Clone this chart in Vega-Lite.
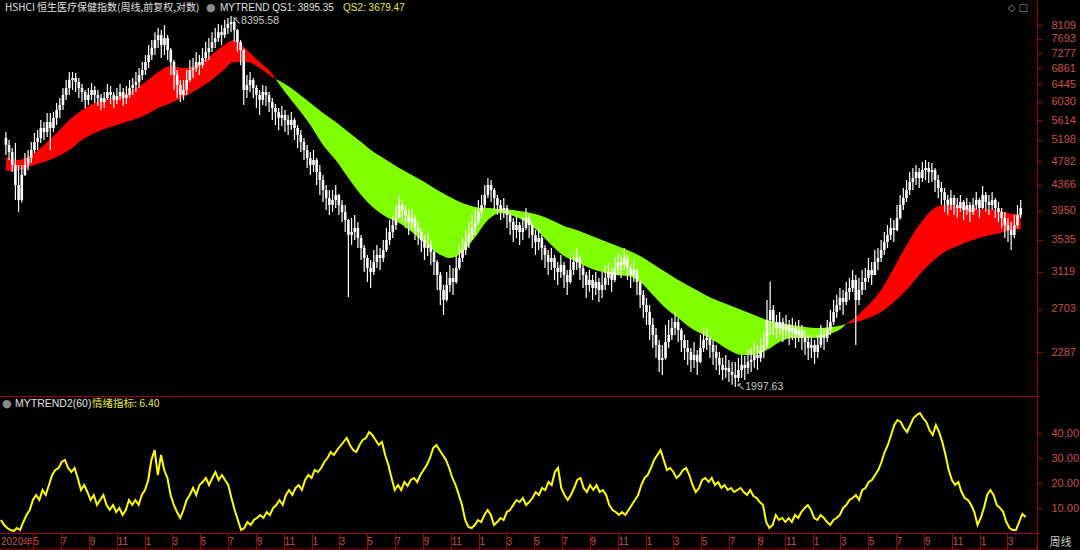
{
"$schema": "https://vega.github.io/schema/vega-lite/v6.json",
"background": "#000000",
"padding": {"left": -4, "top": 0, "right": 4, "bottom": 0},
"spacing": 1,
"bounds": "flush",
"config": {"view": {"stroke": null}, "axis": {"grid": false, "domainColor": "#a00000", "tickColor": "#a00000", "labelColor": "#c8504a", "labelFont": "Liberation Sans", "labelFontSize": 11, "labelOverlap": false, "titleColor": "#c8c8c8"}},
"datasets": {
"p": [
{"d":"2020-02-21","o":5240,"h":5360,"l":4903,"c":5097,"m":5.2},
{"d":"2020-02-28","o":5097,"h":5196,"l":4809,"c":4960,"m":3.2},
{"d":"2020-03-06","o":4960,"h":5038,"l":4591,"c":4717,"m":2},
{"d":"2020-03-13","o":4717,"h":5136,"l":4120,"c":4366,"m":1.2},
{"d":"2020-03-20","o":4366,"h":4717,"l":3932,"c":4120,"m":0.8},
{"d":"2020-03-27","o":4120,"h":4717,"l":4080,"c":4538,"m":2},
{"d":"2020-04-03","o":4538,"h":4941,"l":4520,"c":4717,"m":1.2},
{"d":"2020-04-10","o":4717,"h":4999,"l":4627,"c":4846,"m":4.4},
{"d":"2020-04-17","o":4846,"h":5156,"l":4754,"c":4999,"m":7.2},
{"d":"2020-04-24","o":4999,"h":5339,"l":4941,"c":5156,"m":9.2},
{"d":"2020-05-01","o":5156,"h":5401,"l":4999,"c":5237,"m":13.2},
{"d":"2020-05-08","o":5237,"h":5614,"l":5136,"c":5443,"m":15.2},
{"d":"2020-05-15","o":5443,"h":5571,"l":5196,"c":5359,"m":13.2},
{"d":"2020-05-22","o":5359,"h":5768,"l":5256,"c":5571,"m":17.2},
{"d":"2020-05-29","o":5571,"h":5768,"l":4999,"c":5443,"m":15.2},
{"d":"2020-06-05","o":5443,"h":5790,"l":5359,"c":5658,"m":19.2},
{"d":"2020-06-12","o":5658,"h":5996,"l":5507,"c":5836,"m":23.2},
{"d":"2020-06-19","o":5836,"h":6113,"l":5658,"c":5950,"m":25.2},
{"d":"2020-06-26","o":5950,"h":6355,"l":5836,"c":6185,"m":26},
{"d":"2020-07-03","o":6185,"h":6554,"l":6066,"c":6355,"m":28.4},
{"d":"2020-07-10","o":6355,"h":6760,"l":6185,"c":6554,"m":29.2},
{"d":"2020-07-17","o":6554,"h":6760,"l":6306,"c":6605,"m":26},
{"d":"2020-07-24","o":6605,"h":6734,"l":6257,"c":6503,"m":24.4},
{"d":"2020-07-31","o":6503,"h":6605,"l":6113,"c":6355,"m":26},
{"d":"2020-08-07","o":6355,"h":6454,"l":6019,"c":6257,"m":22},
{"d":"2020-08-14","o":6257,"h":6306,"l":5882,"c":6066,"m":17.2},
{"d":"2020-08-21","o":6066,"h":6355,"l":5950,"c":6185,"m":19.2},
{"d":"2020-08-28","o":6185,"h":6480,"l":6066,"c":6306,"m":16.4},
{"d":"2020-09-04","o":6306,"h":6405,"l":5996,"c":6185,"m":13.2},
{"d":"2020-09-11","o":6185,"h":6306,"l":5927,"c":6113,"m":15.2},
{"d":"2020-09-18","o":6113,"h":6209,"l":5836,"c":6019,"m":11.2},
{"d":"2020-09-25","o":6019,"h":6257,"l":5882,"c":6113,"m":13.2},
{"d":"2020-10-02","o":6113,"h":6454,"l":6066,"c":6257,"m":15.2},
{"d":"2020-10-09","o":6257,"h":6405,"l":5973,"c":6185,"m":11.2},
{"d":"2020-10-16","o":6185,"h":6257,"l":5882,"c":6066,"m":9.2},
{"d":"2020-10-23","o":6066,"h":6355,"l":5973,"c":6161,"m":11.2},
{"d":"2020-10-30","o":6161,"h":6454,"l":6066,"c":6257,"m":8.4},
{"d":"2020-11-06","o":6257,"h":6355,"l":5927,"c":6113,"m":10},
{"d":"2020-11-13","o":6113,"h":6405,"l":5973,"c":6185,"m":7.2},
{"d":"2020-11-20","o":6185,"h":6554,"l":6113,"c":6355,"m":9.2},
{"d":"2020-11-27","o":6355,"h":6605,"l":6185,"c":6429,"m":13.2},
{"d":"2020-12-04","o":6429,"h":6760,"l":6257,"c":6503,"m":11.2},
{"d":"2020-12-11","o":6503,"h":6866,"l":6355,"c":6682,"m":13.2},
{"d":"2020-12-18","o":6682,"h":7027,"l":6554,"c":6813,"m":11.2},
{"d":"2020-12-25","o":6813,"h":7219,"l":6682,"c":7027,"m":15.2},
{"d":"2021-01-01","o":7027,"h":7503,"l":6866,"c":7219,"m":17.2},
{"d":"2021-01-08","o":7219,"h":7650,"l":7082,"c":7418,"m":21.2},
{"d":"2021-01-15","o":7418,"h":7890,"l":7219,"c":7650,"m":29.2},
{"d":"2021-01-22","o":7650,"h":8015,"l":7418,"c":7800,"m":33.2},
{"d":"2021-01-29","o":7800,"h":7952,"l":7137,"c":7503,"m":23.2},
{"d":"2021-02-05","o":7503,"h":8109,"l":7219,"c":7710,"m":31.2},
{"d":"2021-02-12","o":7710,"h":7800,"l":7082,"c":7361,"m":25.2},
{"d":"2021-02-19","o":7361,"h":7418,"l":6682,"c":7027,"m":22},
{"d":"2021-02-26","o":7027,"h":7082,"l":6306,"c":6682,"m":15.2},
{"d":"2021-03-05","o":6682,"h":6813,"l":6113,"c":6429,"m":11.2},
{"d":"2021-03-12","o":6429,"h":6554,"l":6019,"c":6185,"m":8.4},
{"d":"2021-03-19","o":6185,"h":6554,"l":6066,"c":6306,"m":6},
{"d":"2021-03-26","o":6306,"h":6813,"l":6185,"c":6554,"m":9.2},
{"d":"2021-04-02","o":6554,"h":7082,"l":6503,"c":6813,"m":13.2},
{"d":"2021-04-09","o":6813,"h":7137,"l":6605,"c":6866,"m":15.2},
{"d":"2021-04-16","o":6866,"h":7304,"l":6760,"c":7027,"m":18},
{"d":"2021-04-23","o":7027,"h":7219,"l":6682,"c":6945,"m":15.2},
{"d":"2021-04-30","o":6945,"h":7418,"l":6866,"c":7137,"m":19.2},
{"d":"2021-05-07","o":7137,"h":7591,"l":7027,"c":7304,"m":20.4},
{"d":"2021-05-14","o":7304,"h":7710,"l":7082,"c":7418,"m":22},
{"d":"2021-05-21","o":7418,"h":7890,"l":7304,"c":7591,"m":19.2},
{"d":"2021-05-28","o":7591,"h":8015,"l":7418,"c":7710,"m":22},
{"d":"2021-06-04","o":7710,"h":8140,"l":7591,"c":7890,"m":24.4},
{"d":"2021-06-11","o":7890,"h":8109,"l":7503,"c":7800,"m":21.2},
{"d":"2021-06-18","o":7800,"h":8270,"l":7710,"c":8015,"m":23.2},
{"d":"2021-06-25","o":8015,"h":8330,"l":7830,"c":8140,"m":21.2},
{"d":"2021-07-02","o":8140,"h":8395.58,"l":7890,"c":8205,"m":19.2},
{"d":"2021-07-09","o":8205,"h":8250,"l":7591,"c":7952,"m":14},
{"d":"2021-07-16","o":7952,"h":7990,"l":7304,"c":7591,"m":9.2},
{"d":"2021-07-23","o":7591,"h":7650,"l":6945,"c":7361,"m":5.2},
{"d":"2021-07-30","o":7361,"h":7400,"l":5950,"c":6306,"m":1.2},
{"d":"2021-08-06","o":6306,"h":6682,"l":6113,"c":6429,"m":2},
{"d":"2021-08-13","o":6429,"h":6760,"l":6257,"c":6554,"m":4.4},
{"d":"2021-08-20","o":6554,"h":6605,"l":6113,"c":6355,"m":3.2},
{"d":"2021-08-27","o":6355,"h":6429,"l":5882,"c":6185,"m":5.2},
{"d":"2021-09-03","o":6185,"h":6306,"l":5724,"c":6066,"m":6},
{"d":"2021-09-10","o":6066,"h":6429,"l":5950,"c":6257,"m":7.2},
{"d":"2021-09-17","o":6257,"h":6405,"l":5927,"c":6185,"m":6},
{"d":"2021-09-24","o":6185,"h":6257,"l":5790,"c":6019,"m":8.4},
{"d":"2021-10-01","o":6019,"h":6113,"l":5614,"c":5882,"m":7.2},
{"d":"2021-10-08","o":5882,"h":5973,"l":5507,"c":5790,"m":10},
{"d":"2021-10-15","o":5790,"h":5882,"l":5401,"c":5658,"m":11.2},
{"d":"2021-10-22","o":5658,"h":5927,"l":5486,"c":5724,"m":13.2},
{"d":"2021-10-29","o":5724,"h":5836,"l":5359,"c":5614,"m":11.2},
{"d":"2021-11-05","o":5614,"h":5724,"l":5298,"c":5507,"m":15.2},
{"d":"2021-11-12","o":5507,"h":5790,"l":5401,"c":5614,"m":17.2},
{"d":"2021-11-19","o":5614,"h":5658,"l":5196,"c":5443,"m":15.2},
{"d":"2021-11-26","o":5443,"h":5507,"l":5038,"c":5298,"m":18},
{"d":"2021-12-03","o":5298,"h":5401,"l":4960,"c":5156,"m":19.2},
{"d":"2021-12-10","o":5156,"h":5237,"l":4809,"c":4999,"m":17.2},
{"d":"2021-12-17","o":4999,"h":5097,"l":4663,"c":4846,"m":21.2},
{"d":"2021-12-24","o":4846,"h":4960,"l":4538,"c":4717,"m":23.2},
{"d":"2021-12-31","o":4717,"h":4999,"l":4591,"c":4809,"m":22},
{"d":"2022-01-07","o":4809,"h":4846,"l":4366,"c":4591,"m":25.2},
{"d":"2022-01-14","o":4591,"h":4717,"l":4200,"c":4451,"m":24.4},
{"d":"2022-01-21","o":4451,"h":4538,"l":4088,"c":4282,"m":26},
{"d":"2022-01-28","o":4282,"h":4366,"l":3963,"c":4152,"m":28.4},
{"d":"2022-02-04","o":4152,"h":4282,"l":3888,"c":4041,"m":30},
{"d":"2022-02-11","o":4041,"h":4282,"l":3932,"c":4120,"m":32.4},
{"d":"2022-02-18","o":4120,"h":4366,"l":3994,"c":4200,"m":31.2},
{"d":"2022-02-25","o":4200,"h":4220,"l":3888,"c":4041,"m":33.2},
{"d":"2022-03-04","o":4041,"h":4120,"l":3784,"c":3932,"m":34.8},
{"d":"2022-03-11","o":3932,"h":4041,"l":3640,"c":3813,"m":36.4},
{"d":"2022-03-18","o":3813,"h":3830,"l":2831,"c":3598,"m":38},
{"d":"2022-03-25","o":3598,"h":3843,"l":3462,"c":3640,"m":35.2},
{"d":"2022-04-01","o":3640,"h":3888,"l":3529,"c":3697,"m":33.2},
{"d":"2022-04-08","o":3697,"h":3784,"l":3422,"c":3557,"m":32.4},
{"d":"2022-04-15","o":3557,"h":3598,"l":3266,"c":3422,"m":35.2},
{"d":"2022-04-22","o":3422,"h":3462,"l":3118,"c":3291,"m":37.2},
{"d":"2022-04-29","o":3291,"h":3330,"l":3000,"c":3167,"m":38},
{"d":"2022-05-06","o":3167,"h":3266,"l":2931,"c":3118,"m":40.4},
{"d":"2022-05-13","o":3118,"h":3395,"l":3082,"c":3241,"m":39.2},
{"d":"2022-05-20","o":3241,"h":3462,"l":3167,"c":3330,"m":37.2},
{"d":"2022-05-27","o":3330,"h":3422,"l":3142,"c":3291,"m":35.2},
{"d":"2022-06-03","o":3291,"h":3529,"l":3241,"c":3395,"m":36.4},
{"d":"2022-06-10","o":3395,"h":3697,"l":3369,"c":3529,"m":31.2},
{"d":"2022-06-17","o":3529,"h":3813,"l":3462,"c":3640,"m":27.2},
{"d":"2022-06-24","o":3640,"h":3888,"l":3557,"c":3740,"m":22},
{"d":"2022-07-01","o":3740,"h":4041,"l":3668,"c":3843,"m":17.2},
{"d":"2022-07-08","o":3843,"h":4200,"l":3843,"c":4041,"m":19.2},
{"d":"2022-07-15","o":4041,"h":4120,"l":3784,"c":3963,"m":17.2},
{"d":"2022-07-22","o":3963,"h":4041,"l":3697,"c":3888,"m":20.4},
{"d":"2022-07-29","o":3888,"h":3963,"l":3598,"c":3784,"m":18.8},
{"d":"2022-08-05","o":3784,"h":3994,"l":3668,"c":3843,"m":21.2},
{"d":"2022-08-12","o":3843,"h":3888,"l":3529,"c":3697,"m":22},
{"d":"2022-08-19","o":3697,"h":3784,"l":3462,"c":3640,"m":20.4},
{"d":"2022-08-26","o":3640,"h":3697,"l":3369,"c":3529,"m":23.2},
{"d":"2022-09-02","o":3529,"h":3598,"l":3266,"c":3422,"m":25.2},
{"d":"2022-09-09","o":3422,"h":3640,"l":3317,"c":3462,"m":27.2},
{"d":"2022-09-16","o":3462,"h":3529,"l":3204,"c":3369,"m":30},
{"d":"2022-09-23","o":3369,"h":3395,"l":3082,"c":3241,"m":34},
{"d":"2022-09-30","o":3241,"h":3266,"l":2908,"c":3082,"m":35.2},
{"d":"2022-10-07","o":3082,"h":3118,"l":2744,"c":2908,"m":33.2},
{"d":"2022-10-14","o":2908,"h":2965,"l":2640,"c":2798,"m":31.2},
{"d":"2022-10-21","o":2798,"h":3118,"l":2780,"c":2965,"m":29.2},
{"d":"2022-10-28","o":2965,"h":3204,"l":2886,"c":3046,"m":26},
{"d":"2022-11-04","o":3046,"h":3167,"l":2853,"c":2999,"m":22},
{"d":"2022-11-11","o":2999,"h":3330,"l":2980,"c":3167,"m":19.2},
{"d":"2022-11-18","o":3167,"h":3462,"l":3142,"c":3291,"m":15.2},
{"d":"2022-11-25","o":3291,"h":3557,"l":3241,"c":3395,"m":11.2},
{"d":"2022-12-02","o":3395,"h":3668,"l":3330,"c":3502,"m":5.2},
{"d":"2022-12-09","o":3502,"h":3784,"l":3422,"c":3598,"m":2.4},
{"d":"2022-12-16","o":3598,"h":3888,"l":3529,"c":3697,"m":2},
{"d":"2022-12-23","o":3697,"h":3963,"l":3598,"c":3784,"m":3.2},
{"d":"2022-12-30","o":3784,"h":4120,"l":3740,"c":3932,"m":5.2},
{"d":"2023-01-06","o":3932,"h":4200,"l":3843,"c":4041,"m":4.4},
{"d":"2023-01-13","o":4041,"h":4366,"l":3994,"c":4200,"m":7.2},
{"d":"2023-01-20","o":4200,"h":4485,"l":4152,"c":4366,"m":9.2},
{"d":"2023-01-27","o":4366,"h":4451,"l":4088,"c":4282,"m":7.2},
{"d":"2023-02-03","o":4282,"h":4316,"l":3963,"c":4152,"m":3.2},
{"d":"2023-02-10","o":4152,"h":4200,"l":3888,"c":4041,"m":4.4},
{"d":"2023-02-17","o":4041,"h":4120,"l":3813,"c":3963,"m":6},
{"d":"2023-02-24","o":3963,"h":4152,"l":3843,"c":3994,"m":5.2},
{"d":"2023-03-03","o":3994,"h":4041,"l":3697,"c":3888,"m":8.4},
{"d":"2023-03-10","o":3888,"h":3932,"l":3598,"c":3784,"m":9.2},
{"d":"2023-03-17","o":3784,"h":3843,"l":3502,"c":3668,"m":11.2},
{"d":"2023-03-24","o":3668,"h":3888,"l":3557,"c":3740,"m":13.2},
{"d":"2023-03-31","o":3740,"h":3784,"l":3462,"c":3640,"m":12.4},
{"d":"2023-04-07","o":3640,"h":3843,"l":3529,"c":3697,"m":14},
{"d":"2023-04-14","o":3697,"h":3994,"l":3668,"c":3843,"m":11.2},
{"d":"2023-04-21","o":3843,"h":3888,"l":3557,"c":3740,"m":12.4},
{"d":"2023-04-28","o":3740,"h":3784,"l":3422,"c":3598,"m":14},
{"d":"2023-05-05","o":3598,"h":3668,"l":3330,"c":3502,"m":16.4},
{"d":"2023-05-12","o":3502,"h":3697,"l":3395,"c":3557,"m":15.2},
{"d":"2023-05-19","o":3557,"h":3598,"l":3266,"c":3422,"m":18},
{"d":"2023-05-26","o":3422,"h":3462,"l":3167,"c":3330,"m":17.2},
{"d":"2023-06-02","o":3330,"h":3395,"l":3082,"c":3241,"m":20.4},
{"d":"2023-06-09","o":3241,"h":3422,"l":3142,"c":3291,"m":19.2},
{"d":"2023-06-16","o":3291,"h":3330,"l":3023,"c":3167,"m":24.4},
{"d":"2023-06-23","o":3167,"h":3241,"l":2965,"c":3118,"m":26},
{"d":"2023-06-30","o":3118,"h":3330,"l":3046,"c":3204,"m":18},
{"d":"2023-07-07","o":3204,"h":3241,"l":2931,"c":3082,"m":15.2},
{"d":"2023-07-14","o":3082,"h":3142,"l":2853,"c":2999,"m":13.2},
{"d":"2023-07-21","o":2999,"h":3291,"l":2980,"c":3142,"m":15.2},
{"d":"2023-07-28","o":3142,"h":3369,"l":3082,"c":3241,"m":18},
{"d":"2023-08-04","o":3241,"h":3422,"l":3142,"c":3291,"m":21.2},
{"d":"2023-08-11","o":3291,"h":3330,"l":3023,"c":3167,"m":22},
{"d":"2023-08-18","o":3167,"h":3204,"l":2931,"c":3082,"m":18},
{"d":"2023-08-25","o":3082,"h":3118,"l":2820,"c":2965,"m":16.4},
{"d":"2023-09-01","o":2965,"h":3142,"l":2886,"c":3023,"m":19.2},
{"d":"2023-09-08","o":3023,"h":3082,"l":2798,"c":2931,"m":17.2},
{"d":"2023-09-15","o":2931,"h":3118,"l":2853,"c":2999,"m":19.2},
{"d":"2023-09-22","o":2999,"h":3046,"l":2776,"c":2908,"m":16.4},
{"d":"2023-09-29","o":2908,"h":3118,"l":2820,"c":2965,"m":17.2},
{"d":"2023-10-06","o":2965,"h":3204,"l":2908,"c":3046,"m":15.2},
{"d":"2023-10-13","o":3046,"h":3241,"l":2965,"c":3118,"m":11.2},
{"d":"2023-10-20","o":3118,"h":3167,"l":2886,"c":3023,"m":9.2},
{"d":"2023-10-27","o":3023,"h":3291,"l":2999,"c":3142,"m":8.4},
{"d":"2023-11-03","o":3142,"h":3369,"l":3082,"c":3241,"m":7.2},
{"d":"2023-11-10","o":3241,"h":3330,"l":3046,"c":3204,"m":8.4},
{"d":"2023-11-17","o":3204,"h":3422,"l":3142,"c":3291,"m":7.2},
{"d":"2023-11-24","o":3291,"h":3330,"l":3023,"c":3167,"m":9.2},
{"d":"2023-12-01","o":3167,"h":3204,"l":2931,"c":3082,"m":11.2},
{"d":"2023-12-08","o":3082,"h":3266,"l":2999,"c":3142,"m":13.2},
{"d":"2023-12-15","o":3142,"h":3160,"l":2853,"c":2999,"m":15.2},
{"d":"2023-12-22","o":2999,"h":3023,"l":2712,"c":2853,"m":19.2},
{"d":"2023-12-29","o":2853,"h":2908,"l":2609,"c":2744,"m":22},
{"d":"2024-01-05","o":2744,"h":2820,"l":2540,"c":2670,"m":23.2},
{"d":"2024-01-12","o":2670,"h":2744,"l":2396,"c":2540,"m":26},
{"d":"2024-01-19","o":2540,"h":2609,"l":2323,"c":2443,"m":29.2},
{"d":"2024-01-26","o":2443,"h":2510,"l":2235,"c":2351,"m":31.2},
{"d":"2024-02-02","o":2351,"h":2396,"l":2117,"c":2218,"m":33.2},
{"d":"2024-02-09","o":2218,"h":2351,"l":2093,"c":2235,"m":29.2},
{"d":"2024-02-16","o":2235,"h":2540,"l":2220,"c":2378,"m":25.2},
{"d":"2024-02-23","o":2378,"h":2589,"l":2323,"c":2443,"m":26},
{"d":"2024-03-01","o":2443,"h":2609,"l":2396,"c":2510,"m":24.4},
{"d":"2024-03-08","o":2510,"h":2670,"l":2443,"c":2569,"m":22},
{"d":"2024-03-15","o":2569,"h":2609,"l":2378,"c":2491,"m":23.2},
{"d":"2024-03-22","o":2491,"h":2510,"l":2288,"c":2396,"m":25.2},
{"d":"2024-03-29","o":2396,"h":2443,"l":2218,"c":2323,"m":26},
{"d":"2024-04-05","o":2323,"h":2396,"l":2176,"c":2288,"m":23.2},
{"d":"2024-04-12","o":2288,"h":2323,"l":2117,"c":2218,"m":19.2},
{"d":"2024-04-19","o":2218,"h":2378,"l":2151,"c":2261,"m":16.4},
{"d":"2024-04-26","o":2261,"h":2305,"l":2093,"c":2201,"m":18},
{"d":"2024-05-03","o":2201,"h":2443,"l":2190,"c":2323,"m":21.2},
{"d":"2024-05-10","o":2323,"h":2510,"l":2288,"c":2396,"m":22},
{"d":"2024-05-17","o":2396,"h":2510,"l":2305,"c":2415,"m":20.4},
{"d":"2024-05-24","o":2415,"h":2443,"l":2235,"c":2351,"m":22},
{"d":"2024-05-31","o":2351,"h":2396,"l":2176,"c":2288,"m":19.2},
{"d":"2024-06-07","o":2288,"h":2351,"l":2134,"c":2235,"m":20.4},
{"d":"2024-06-14","o":2235,"h":2288,"l":2093,"c":2176,"m":18},
{"d":"2024-06-21","o":2176,"h":2235,"l":2053,"c":2134,"m":19.2},
{"d":"2024-06-28","o":2134,"h":2261,"l":2069,"c":2151,"m":17.2},
{"d":"2024-07-05","o":2151,"h":2218,"l":2037,"c":2117,"m":18},
{"d":"2024-07-12","o":2117,"h":2201,"l":2014,"c":2093,"m":16.4},
{"d":"2024-07-19","o":2093,"h":2201,"l":1997.63,"c":2069,"m":17.2},
{"d":"2024-07-26","o":2069,"h":2235,"l":2037,"c":2134,"m":18},
{"d":"2024-08-02","o":2134,"h":2261,"l":2069,"c":2176,"m":16.4},
{"d":"2024-08-09","o":2176,"h":2252,"l":2053,"c":2151,"m":15.2},
{"d":"2024-08-16","o":2151,"h":2305,"l":2101,"c":2201,"m":17.2},
{"d":"2024-08-23","o":2201,"h":2323,"l":2117,"c":2218,"m":14.8},
{"d":"2024-08-30","o":2218,"h":2378,"l":2151,"c":2261,"m":14},
{"d":"2024-09-06","o":2261,"h":2351,"l":2134,"c":2235,"m":12.4},
{"d":"2024-09-13","o":2235,"h":2415,"l":2201,"c":2305,"m":11.2},
{"d":"2024-09-20","o":2305,"h":2472,"l":2235,"c":2351,"m":4.4},
{"d":"2024-09-27","o":2351,"h":2798,"l":2323,"c":2589,"m":2},
{"d":"2024-10-04","o":2589,"h":3005,"l":2443,"c":2691,"m":3.2},
{"d":"2024-10-11","o":2691,"h":2744,"l":2443,"c":2569,"m":7.2},
{"d":"2024-10-18","o":2569,"h":2640,"l":2396,"c":2510,"m":5.2},
{"d":"2024-10-25","o":2510,"h":2670,"l":2443,"c":2569,"m":6},
{"d":"2024-11-01","o":2569,"h":2609,"l":2378,"c":2491,"m":4.4},
{"d":"2024-11-08","o":2491,"h":2640,"l":2415,"c":2540,"m":6},
{"d":"2024-11-15","o":2540,"h":2589,"l":2351,"c":2472,"m":4.4},
{"d":"2024-11-22","o":2472,"h":2609,"l":2396,"c":2510,"m":7.2},
{"d":"2024-11-29","o":2510,"h":2569,"l":2323,"c":2443,"m":6},
{"d":"2024-12-06","o":2443,"h":2589,"l":2378,"c":2491,"m":8.4},
{"d":"2024-12-13","o":2491,"h":2540,"l":2305,"c":2415,"m":10},
{"d":"2024-12-20","o":2415,"h":2491,"l":2261,"c":2378,"m":11.2},
{"d":"2024-12-27","o":2378,"h":2443,"l":2218,"c":2323,"m":9.2},
{"d":"2025-01-03","o":2323,"h":2443,"l":2235,"c":2351,"m":6},
{"d":"2025-01-10","o":2351,"h":2396,"l":2184,"c":2288,"m":5.2},
{"d":"2025-01-17","o":2288,"h":2443,"l":2235,"c":2351,"m":7.2},
{"d":"2025-01-24","o":2351,"h":2540,"l":2323,"c":2443,"m":6},
{"d":"2025-01-31","o":2443,"h":2510,"l":2305,"c":2415,"m":4.4},
{"d":"2025-02-07","o":2415,"h":2589,"l":2378,"c":2491,"m":3.2},
{"d":"2025-02-14","o":2491,"h":2691,"l":2443,"c":2569,"m":5.2},
{"d":"2025-02-21","o":2569,"h":2798,"l":2540,"c":2670,"m":6},
{"d":"2025-02-28","o":2670,"h":2853,"l":2609,"c":2744,"m":7.2},
{"d":"2025-03-07","o":2744,"h":2931,"l":2691,"c":2820,"m":10},
{"d":"2025-03-14","o":2820,"h":2908,"l":2640,"c":2776,"m":11.2},
{"d":"2025-03-21","o":2776,"h":2999,"l":2744,"c":2886,"m":13.2},
{"d":"2025-03-28","o":2886,"h":3046,"l":2798,"c":2931,"m":14},
{"d":"2025-04-04","o":2931,"h":3142,"l":2886,"c":3023,"m":15.2},
{"d":"2025-04-11","o":3023,"h":3082,"l":2351,"c":2798,"m":13.2},
{"d":"2025-04-18","o":2798,"h":3046,"l":2744,"c":2908,"m":17.2},
{"d":"2025-04-25","o":2908,"h":3142,"l":2853,"c":2999,"m":18},
{"d":"2025-05-02","o":2999,"h":3167,"l":2908,"c":3046,"m":20.4},
{"d":"2025-05-09","o":3046,"h":3291,"l":2999,"c":3142,"m":21.2},
{"d":"2025-05-16","o":3142,"h":3241,"l":2965,"c":3082,"m":23.2},
{"d":"2025-05-23","o":3082,"h":3395,"l":3082,"c":3241,"m":25.2},
{"d":"2025-05-30","o":3241,"h":3422,"l":3142,"c":3291,"m":28.4},
{"d":"2025-06-06","o":3291,"h":3529,"l":3241,"c":3395,"m":32.4},
{"d":"2025-06-13","o":3395,"h":3640,"l":3330,"c":3502,"m":35.2},
{"d":"2025-06-20","o":3502,"h":3740,"l":3422,"c":3598,"m":39.2},
{"d":"2025-06-27","o":3598,"h":3843,"l":3529,"c":3697,"m":43.2},
{"d":"2025-07-04","o":3697,"h":3813,"l":3502,"c":3668,"m":45.2},
{"d":"2025-07-11","o":3668,"h":4041,"l":3650,"c":3843,"m":44.4},
{"d":"2025-07-18","o":3843,"h":4200,"l":3820,"c":4041,"m":42},
{"d":"2025-07-25","o":4041,"h":4316,"l":3963,"c":4152,"m":40.4},
{"d":"2025-08-01","o":4152,"h":4451,"l":4088,"c":4282,"m":43.2},
{"d":"2025-08-08","o":4282,"h":4591,"l":4200,"c":4417,"m":46},
{"d":"2025-08-15","o":4417,"h":4663,"l":4282,"c":4485,"m":47.2},
{"d":"2025-08-22","o":4485,"h":4717,"l":4366,"c":4591,"m":48},
{"d":"2025-08-29","o":4591,"h":4663,"l":4316,"c":4485,"m":46},
{"d":"2025-09-05","o":4485,"h":4772,"l":4417,"c":4627,"m":44.4},
{"d":"2025-09-12","o":4627,"h":4809,"l":4451,"c":4663,"m":41.2},
{"d":"2025-09-19","o":4663,"h":4772,"l":4400,"c":4591,"m":39.2},
{"d":"2025-09-26","o":4591,"h":4754,"l":4417,"c":4627,"m":43.2},
{"d":"2025-10-03","o":4627,"h":4663,"l":4249,"c":4451,"m":40.4},
{"d":"2025-10-10","o":4451,"h":4538,"l":4152,"c":4316,"m":36.4},
{"d":"2025-10-17","o":4316,"h":4417,"l":4041,"c":4249,"m":31.2},
{"d":"2025-10-24","o":4249,"h":4316,"l":3932,"c":4120,"m":25.2},
{"d":"2025-10-31","o":4120,"h":4200,"l":3888,"c":4041,"m":21.2},
{"d":"2025-11-07","o":4041,"h":4282,"l":3963,"c":4152,"m":19.2},
{"d":"2025-11-14","o":4152,"h":4200,"l":3888,"c":4041,"m":20.4},
{"d":"2025-11-21","o":4041,"h":4152,"l":3843,"c":3994,"m":16.4},
{"d":"2025-11-28","o":3994,"h":4200,"l":3932,"c":4088,"m":14},
{"d":"2025-12-05","o":4088,"h":4120,"l":3813,"c":3963,"m":13.2},
{"d":"2025-12-12","o":3963,"h":4152,"l":3888,"c":4041,"m":11.2},
{"d":"2025-12-19","o":4041,"h":4088,"l":3784,"c":3932,"m":8.4},
{"d":"2025-12-26","o":3932,"h":4152,"l":3888,"c":4041,"m":3.2},
{"d":"2026-01-02","o":4041,"h":4249,"l":3963,"c":4120,"m":6},
{"d":"2026-01-09","o":4120,"h":4152,"l":3843,"c":3994,"m":10},
{"d":"2026-01-16","o":3994,"h":4349,"l":3980,"c":4200,"m":15.2},
{"d":"2026-01-23","o":4200,"h":4249,"l":3932,"c":4088,"m":17.2},
{"d":"2026-01-30","o":4088,"h":4200,"l":3888,"c":4041,"m":15.2},
{"d":"2026-02-06","o":4041,"h":4249,"l":3963,"c":4120,"m":11.2},
{"d":"2026-02-13","o":4120,"h":4152,"l":3843,"c":3994,"m":10},
{"d":"2026-02-20","o":3994,"h":4088,"l":3784,"c":3932,"m":8.4},
{"d":"2026-02-27","o":3932,"h":3994,"l":3697,"c":3843,"m":4.4},
{"d":"2026-03-06","o":3843,"h":3932,"l":3557,"c":3740,"m":2},
{"d":"2026-03-13","o":3740,"h":3843,"l":3502,"c":3668,"m":1.2},
{"d":"2026-03-20","o":3668,"h":3784,"l":3395,"c":3598,"m":1.2},
{"d":"2026-03-27","o":3598,"h":3888,"l":3557,"c":3740,"m":4.4},
{"d":"2026-04-03","o":3740,"h":4041,"l":3700,"c":3888,"m":7.6},
{"d":"2026-04-10","o":3888,"h":4120,"l":3843,"c":3994,"m":6.4}
],
"r": [
{"d":"2020-02-21","a":4865,"b":4609,"s":"up1"},
{"d":"2020-03-20","a":4809,"b":4627,"s":"up1"},
{"d":"2020-04-17","a":4903,"b":4699,"s":"up1"},
{"d":"2020-05-15","a":5097,"b":4772,"s":"up1"},
{"d":"2020-06-12","a":5338,"b":4865,"s":"up1"},
{"d":"2020-07-10","a":5614,"b":4999,"s":"up1"},
{"d":"2020-08-07","a":5836,"b":5196,"s":"up1"},
{"d":"2020-09-04","a":5995,"b":5338,"s":"up1"},
{"d":"2020-10-02","a":6090,"b":5443,"s":"up1"},
{"d":"2020-10-30","a":6161,"b":5528,"s":"up1"},
{"d":"2020-11-27","a":6306,"b":5614,"s":"up1"},
{"d":"2020-12-25","a":6503,"b":5724,"s":"up1"},
{"d":"2021-01-22","a":6760,"b":5882,"s":"up1"},
{"d":"2021-02-19","a":6919,"b":5996,"s":"up1"},
{"d":"2021-03-19","a":6866,"b":6137,"s":"up1"},
{"d":"2021-04-16","a":6945,"b":6306,"s":"up1"},
{"d":"2021-05-14","a":7164,"b":6503,"s":"up1"},
{"d":"2021-06-11","a":7446,"b":6760,"s":"up1"},
{"d":"2021-07-09","a":7650,"b":7027,"s":"up1"},
{"d":"2021-08-06","a":7361,"b":7027,"s":"up1"},
{"d":"2021-09-03","a":7027,"b":6866,"s":"up1"},
{"d":"2021-10-01","a":6708,"b":6631,"s":"up1"},
{"d":"2021-10-08","a":6580,"b":6580,"s":"up1"},
{"d":"2021-10-08","a":6580,"b":6580,"s":"down"},
{"d":"2021-10-29","a":6257,"b":6454,"s":"down"},
{"d":"2021-11-26","a":5882,"b":6233,"s":"down"},
{"d":"2021-12-24","a":5507,"b":5996,"s":"down"},
{"d":"2022-01-21","a":5097,"b":5768,"s":"down"},
{"d":"2022-02-18","a":4809,"b":5571,"s":"down"},
{"d":"2022-03-18","a":4485,"b":5359,"s":"down"},
{"d":"2022-04-15","a":4200,"b":5156,"s":"down"},
{"d":"2022-05-13","a":3994,"b":4960,"s":"down"},
{"d":"2022-06-10","a":3857,"b":4809,"s":"down"},
{"d":"2022-07-08","a":3769,"b":4663,"s":"down"},
{"d":"2022-08-05","a":3640,"b":4538,"s":"down"},
{"d":"2022-09-02","a":3489,"b":4417,"s":"down"},
{"d":"2022-09-30","a":3357,"b":4282,"s":"down"},
{"d":"2022-10-28","a":3291,"b":4168,"s":"down"},
{"d":"2022-11-25","a":3369,"b":4072,"s":"down"},
{"d":"2022-12-23","a":3570,"b":4010,"s":"down"},
{"d":"2023-01-20","a":3813,"b":3994,"s":"down"},
{"d":"2023-02-17","a":3917,"b":3978,"s":"down"},
{"d":"2023-03-17","a":3873,"b":3963,"s":"down"},
{"d":"2023-04-14","a":3784,"b":3932,"s":"down"},
{"d":"2023-05-12","a":3640,"b":3888,"s":"down"},
{"d":"2023-06-09","a":3462,"b":3813,"s":"down"},
{"d":"2023-07-07","a":3317,"b":3726,"s":"down"},
{"d":"2023-08-04","a":3241,"b":3668,"s":"down"},
{"d":"2023-09-01","a":3167,"b":3598,"s":"down"},
{"d":"2023-09-29","a":3118,"b":3529,"s":"down"},
{"d":"2023-10-27","a":3082,"b":3462,"s":"down"},
{"d":"2023-11-24","a":3070,"b":3395,"s":"down"},
{"d":"2023-12-22","a":2999,"b":3317,"s":"down"},
{"d":"2024-01-19","a":2853,"b":3216,"s":"down"},
{"d":"2024-02-16","a":2712,"b":3118,"s":"down"},
{"d":"2024-03-15","a":2609,"b":3023,"s":"down"},
{"d":"2024-04-12","a":2510,"b":2942,"s":"down"},
{"d":"2024-05-10","a":2443,"b":2864,"s":"down"},
{"d":"2024-06-07","a":2378,"b":2798,"s":"down"},
{"d":"2024-07-05","a":2305,"b":2744,"s":"down"},
{"d":"2024-08-02","a":2261,"b":2691,"s":"down"},
{"d":"2024-08-30","a":2261,"b":2640,"s":"down"},
{"d":"2024-09-27","a":2305,"b":2589,"s":"down"},
{"d":"2024-10-25","a":2378,"b":2560,"s":"down"},
{"d":"2024-11-22","a":2415,"b":2540,"s":"down"},
{"d":"2024-12-20","a":2415,"b":2520,"s":"down"},
{"d":"2025-01-17","a":2415,"b":2510,"s":"down"},
{"d":"2025-02-14","a":2453,"b":2520,"s":"down"},
{"d":"2025-03-14","a":2520,"b":2540,"s":"down"},
{"d":"2025-03-21","a":2550,"b":2550,"s":"down"},
{"d":"2025-03-21","a":2550,"b":2550,"s":"up2"},
{"d":"2025-04-11","a":2620,"b":2569,"s":"up2"},
{"d":"2025-05-09","a":2744,"b":2609,"s":"up2"},
{"d":"2025-06-06","a":2908,"b":2670,"s":"up2"},
{"d":"2025-07-04","a":3167,"b":2776,"s":"up2"},
{"d":"2025-08-01","a":3462,"b":2908,"s":"up2"},
{"d":"2025-08-29","a":3740,"b":3082,"s":"up2"},
{"d":"2025-09-26","a":3963,"b":3241,"s":"up2"},
{"d":"2025-10-24","a":4041,"b":3369,"s":"up2"},
{"d":"2025-11-21","a":4025,"b":3448,"s":"up2"},
{"d":"2025-12-19","a":3994,"b":3516,"s":"up2"},
{"d":"2026-01-16","a":3978,"b":3570,"s":"up2"},
{"d":"2026-02-13","a":3963,"b":3612,"s":"up2"},
{"d":"2026-03-13","a":3917,"b":3654,"s":"up2"},
{"d":"2026-04-10","a":3895.35,"b":3679.47,"s":"up2"}
]
},
"vconcat": [
{
"width": 1037,
"height": 396,
"layer": [
{"data": {"name": "r"},
 "mark": {"type": "area", "interpolate": "monotone"},
 "encoding": {
  "x": {"field": "d", "type": "temporal",
        "scale": {"type": "utc", "domain": [{"year": 2020, "month": 2, "date": 19, "utc": true}, {"year": 2026, "month": 5, "date": 5, "utc": true}]},
        "axis": {"orient": "bottom", "labels": false, "ticks": false, "domain": true, "title": null}},
  "y": {"field": "a", "type": "quantitative",
        "scale": {"type": "log", "domain": [1929, 8935], "nice": false},
        "axis": {"orient": "right", "title": null, "tickCount": 100, "values": [2287, 2703, 3119, 3535, 3950, 4366, 4782, 5198, 5614, 6030, 6445, 6861, 7277, 7693, 8109], "format": "d", "tickSize": 5, "labelPadding": 9}},
  "y2": {"field": "b"},
  "color": {"field": "s", "type": "nominal", "scale": {"domain": ["up1", "down", "up2"], "range": ["#ff0000", "#80ff00", "#ff0000"]}, "legend": null}
 }},
{"data": {"name": "p"},
 "mark": {"type": "rule", "color": "#ffffff", "strokeWidth": 1.2},
 "encoding": {"x": {"field": "d", "type": "temporal"}, "y": {"field": "l", "type": "quantitative"}, "y2": {"field": "h"}}},
{"data": {"name": "p"},
 "mark": {"type": "bar", "color": "#ffffff", "width": 2.6},
 "encoding": {"x": {"field": "d", "type": "temporal"}, "y": {"field": "o", "type": "quantitative"}, "y2": {"field": "c"}}},
{"data": {"values": [{}]},
 "mark": {"type": "text", "text": "HSHCI 恒生医疗保健指数(周线,前复权,对数)", "align": "left", "baseline": "middle", "dx": 0, "dy": 8, "font": "Noto Sans CJK SC", "fontSize": 10, "color": "#e0e0e0"},
 "encoding": {"x": {"datum": {"year": 2020, "month": 2, "date": 19, "utc": true}, "type": "temporal"}, "y": {"datum": 8935, "type": "quantitative"}}},
{"data": {"values": [{}]},
 "mark": {"type": "text", "text": "●", "align": "left", "baseline": "middle", "dx": 201, "dy": 8, "font": "DejaVu Sans", "fontSize": 11, "color": "#8a8a8a"},
 "encoding": {"x": {"datum": {"year": 2020, "month": 2, "date": 19, "utc": true}, "type": "temporal"}, "y": {"datum": 8935, "type": "quantitative"}}},
{"data": {"values": [{}]},
 "mark": {"type": "text", "text": "MYTREND QS1: 3895.35", "align": "left", "baseline": "middle", "dx": 215, "dy": 8, "font": "Liberation Sans", "fontSize": 10, "color": "#e0e0e0"},
 "encoding": {"x": {"datum": {"year": 2020, "month": 2, "date": 19, "utc": true}, "type": "temporal"}, "y": {"datum": 8935, "type": "quantitative"}}},
{"data": {"values": [{}]},
 "mark": {"type": "text", "text": "QS2: 3679.47", "align": "left", "baseline": "middle", "dx": 338, "dy": 8, "font": "Liberation Sans", "fontSize": 10, "color": "#e8e83a"},
 "encoding": {"x": {"datum": {"year": 2020, "month": 2, "date": 19, "utc": true}, "type": "temporal"}, "y": {"datum": 8935, "type": "quantitative"}}},
{"data": {"values": [{}]},
 "mark": {"type": "text", "text": "◇  □", "align": "right", "baseline": "middle", "dx": -4, "dy": 8, "font": "DejaVu Sans", "fontSize": 10, "color": "#9a9a9a"},
 "encoding": {"x": {"datum": {"year": 2026, "month": 5, "date": 5, "utc": true}, "type": "temporal"}, "y": {"datum": 8935, "type": "quantitative"}}},
{"data": {"values": [{}]},
 "mark": {"type": "text", "text": "↖8395.58", "align": "left", "baseline": "middle", "dx": 1, "dy": 5, "font": "Liberation Sans", "fontSize": 10.5, "color": "#c8c8c8"},
 "encoding": {"x": {"datum": {"year": 2021, "month": 7, "date": 2, "utc": true}, "type": "temporal"}, "y": {"datum": 8395.58, "type": "quantitative"}}},
{"data": {"values": [{}]},
 "mark": {"type": "text", "text": "↖1997.63", "align": "left", "baseline": "middle", "dx": 1, "dy": 0, "font": "Liberation Sans", "fontSize": 10.5, "color": "#c8c8c8"},
 "encoding": {"x": {"datum": {"year": 2024, "month": 7, "date": 19, "utc": true}, "type": "temporal"}, "y": {"datum": 1997.63, "type": "quantitative"}}}
]
},
{
"width": 1037,
"height": 136,
"layer": [
{"data": {"name": "p"},
 "mark": {"type": "line", "color": "#ffff00", "strokeWidth": 2},
 "encoding": {
  "x": {"field": "d", "type": "temporal",
        "scale": {"type": "utc", "domain": [{"year": 2020, "month": 2, "date": 19, "utc": true}, {"year": 2026, "month": 5, "date": 5, "utc": true}]},
        "axis": {"orient": "bottom", "title": null, "tickCount": 200, "tickSize": 17, "labelAlign": "left", "labelBaseline": "middle", "labelPadding": -9, "labelDx": 2, "labelFlush": false, "labelOverlap": false, "labelBound": false, "labelSeparation": 0,
                 "values": [{"year":2020,"month":5,"date":1,"utc":true},{"year":2020,"month":7,"date":1,"utc":true},{"year":2020,"month":9,"date":1,"utc":true},{"year":2020,"month":11,"date":1,"utc":true},
                            {"year":2021,"month":1,"date":1,"utc":true},{"year":2021,"month":3,"date":1,"utc":true},{"year":2021,"month":5,"date":1,"utc":true},{"year":2021,"month":7,"date":1,"utc":true},{"year":2021,"month":9,"date":1,"utc":true},{"year":2021,"month":11,"date":1,"utc":true},
                            {"year":2022,"month":1,"date":1,"utc":true},{"year":2022,"month":3,"date":1,"utc":true},{"year":2022,"month":5,"date":1,"utc":true},{"year":2022,"month":7,"date":1,"utc":true},{"year":2022,"month":9,"date":1,"utc":true},{"year":2022,"month":11,"date":1,"utc":true},
                            {"year":2023,"month":1,"date":1,"utc":true},{"year":2023,"month":3,"date":1,"utc":true},{"year":2023,"month":5,"date":1,"utc":true},{"year":2023,"month":7,"date":1,"utc":true},{"year":2023,"month":9,"date":1,"utc":true},{"year":2023,"month":11,"date":1,"utc":true},
                            {"year":2024,"month":1,"date":1,"utc":true},{"year":2024,"month":3,"date":1,"utc":true},{"year":2024,"month":5,"date":1,"utc":true},{"year":2024,"month":7,"date":1,"utc":true},{"year":2024,"month":9,"date":1,"utc":true},{"year":2024,"month":11,"date":1,"utc":true},
                            {"year":2025,"month":1,"date":1,"utc":true},{"year":2025,"month":3,"date":1,"utc":true},{"year":2025,"month":5,"date":1,"utc":true},{"year":2025,"month":7,"date":1,"utc":true},{"year":2025,"month":9,"date":1,"utc":true},{"year":2025,"month":11,"date":1,"utc":true},
                            {"year":2026,"month":1,"date":1,"utc":true},{"year":2026,"month":3,"date":1,"utc":true},{"year":2026,"month":5,"date":5,"utc":true}],
                 "labelExpr": "datum.value >= utc(2026,3,15) ? '' : '' + (utcmonth(datum.value) + 1)",
                 "labelFont": "Liberation Sans", "labelFontSize": 10}},
  "y": {"field": "m", "type": "quantitative",
        "scale": {"domain": [0, 54.4], "nice": false, "zero": false},
        "axis": {"orient": "right", "tickCount": 100, "values": [10, 20, 30, 40], "format": ".2f", "tickSize": 5, "labelPadding": 9,
                 "title": "周线", "titleAngle": 0, "titleAlign": "left", "titleBaseline": "middle", "titleX": 12, "titleY": 145, "titleFont": "Noto Sans CJK SC", "titleFontSize": 11, "titleFontWeight": "normal", "titleColor": "#c8c8c8"}}
 }},
{"data": {"values": [{}]},
 "mark": {"type": "rule", "color": "#a00000", "strokeWidth": 1},
 "encoding": {"x": {"datum": {"year": 2020, "month": 2, "date": 19, "utc": true}, "type": "temporal"}, "x2": {"datum": {"year": 2026, "month": 5, "date": 5, "utc": true}}, "y": {"datum": -6.4, "type": "quantitative"}}},
{"data": {"values": [{}]},
 "mark": {"type": "text", "text": "2020年", "align": "left", "baseline": "middle", "dx": 1, "dy": 9, "font": "Liberation Sans", "fontSize": 10, "color": "#c8504a"},
 "encoding": {"x": {"datum": {"year": 2020, "month": 2, "date": 19, "utc": true}, "type": "temporal"}, "y": {"datum": 0, "type": "quantitative"}}},
{"data": {"values": [{}]},
 "mark": {"type": "text", "text": "●", "align": "left", "baseline": "middle", "dx": 2, "dy": 7, "font": "DejaVu Sans", "fontSize": 11, "color": "#8a8a8a"},
 "encoding": {"x": {"datum": {"year": 2020, "month": 2, "date": 19, "utc": true}, "type": "temporal"}, "y": {"datum": 54.4, "type": "quantitative"}}},
{"data": {"values": [{}]},
 "mark": {"type": "text", "text": "MYTREND2(60)", "align": "left", "baseline": "middle", "dx": 15, "dy": 7, "font": "Liberation Sans", "fontSize": 10.5, "color": "#e0e0e0"},
 "encoding": {"x": {"datum": {"year": 2020, "month": 2, "date": 19, "utc": true}, "type": "temporal"}, "y": {"datum": 54.4, "type": "quantitative"}}},
{"data": {"values": [{}]},
 "mark": {"type": "text", "text": "情绪指标: 6.40", "align": "left", "baseline": "middle", "dx": 92, "dy": 7, "font": "Noto Sans CJK SC", "fontSize": 10.5, "color": "#e8e83a"},
 "encoding": {"x": {"datum": {"year": 2020, "month": 2, "date": 19, "utc": true}, "type": "temporal"}, "y": {"datum": 54.4, "type": "quantitative"}}}
]
}
]
}
